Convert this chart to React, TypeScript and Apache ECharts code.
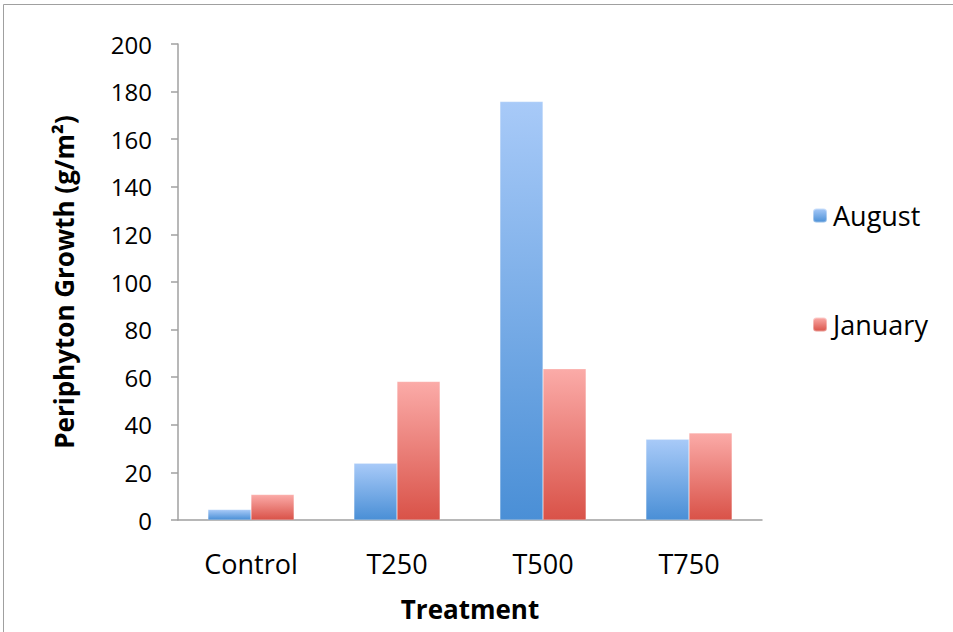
import React, { useEffect, useRef } from "react";
import * as echarts from "echarts";

const categories = ["Control", "T250", "T500", "T750"];
const augustValues = [4.4, 23.8, 175.8, 33.9];
const januaryValues = [10.7, 58.2, 63.5, 36.6];
const yTicks = { min: 0, max: 200, interval: 20 };

const FONT = "'Open Sans', 'Liberation Sans', sans-serif";

export default function App() {
  const ref = useRef<HTMLDivElement>(null);
  useEffect(() => {
    if (!ref.current) return;
    const chart = echarts.init(ref.current, null, { renderer: "svg" });
    const augGrad = new echarts.graphic.LinearGradient(0, 0, 0, 1, [
      { offset: 0, color: "#a8caf8" },
      { offset: 1, color: "#4a8fd6" },
    ]);
    const janGrad = new echarts.graphic.LinearGradient(0, 0, 0, 1, [
      { offset: 0, color: "#fbaba8" },
      { offset: 1, color: "#d95248" },
    ]);
    chart.setOption({
      animation: false,
      backgroundColor: "#ffffff",
      textStyle: { fontFamily: FONT },
      graphic: [
        {
          type: "rect",
          shape: { x: 3.5, y: 4.5, width: 960, height: 640 },
          style: { fill: "none", stroke: "#a0a0a0", lineWidth: 1 },
          silent: true,
        },
      ],
      grid: { left: 178, right: 191, top: 44, bottom: 112, containLabel: false },
      legend: {
        orient: "vertical",
        left: 807,
        top: 197,
        itemWidth: 14,
        itemHeight: 14,
        itemGap: 82,
        textStyle: { fontSize: 27, color: "#000", fontFamily: FONT, padding: [0, 0, 0, 1] },
        data: ["August", "January"],
      },
      xAxis: {
        type: "category",
        data: categories,
        name: "Treatment",
        nameLocation: "middle",
        nameGap: 76,
        nameTextStyle: { fontSize: 26, fontWeight: "bold", color: "#000", fontFamily: FONT },
        axisLine: { lineStyle: { color: "#a0a0a0", width: 1.5 } },
        axisTick: { show: false },
        axisLabel: { fontSize: 27, color: "#000", margin: 30, fontFamily: FONT },
      },
      yAxis: {
        type: "value",
        min: yTicks.min,
        max: yTicks.max,
        interval: yTicks.interval,
        name: "Periphyton Growth (g/m²)",
        nameLocation: "middle",
        nameGap: 101,
        nameRotate: 90,
        nameTextStyle: { fontSize: 26, fontWeight: "bold", color: "#000", fontFamily: FONT },
        axisLine: { show: true, lineStyle: { color: "#a0a0a0", width: 1.5 } },
        axisTick: { show: true, length: 7, lineStyle: { color: "#a0a0a0", width: 1.5 } },
        splitLine: { show: false },
        axisLabel: { fontSize: 24, color: "#000", margin: 26, fontFamily: FONT },
      },
      series: [
        {
          name: "August",
          type: "bar",
          data: augustValues,
          barGap: "0%",
          barCategoryGap: "41%",
          itemStyle: { color: augGrad, borderColor: "rgba(255,255,255,0.4)", borderWidth: 0.5 },
        },
        {
          name: "January",
          type: "bar",
          data: januaryValues,
          barGap: "0%",
          barCategoryGap: "41%",
          itemStyle: { color: janGrad, borderColor: "rgba(255,255,255,0.4)", borderWidth: 0.5 },
        },
      ],
    });
    return () => chart.dispose();
  }, []);
  return (
    <div
      ref={ref}
      style={{ position: "fixed", left: 0, top: 0, width: 953, height: 632 }}
    />
  );
}
